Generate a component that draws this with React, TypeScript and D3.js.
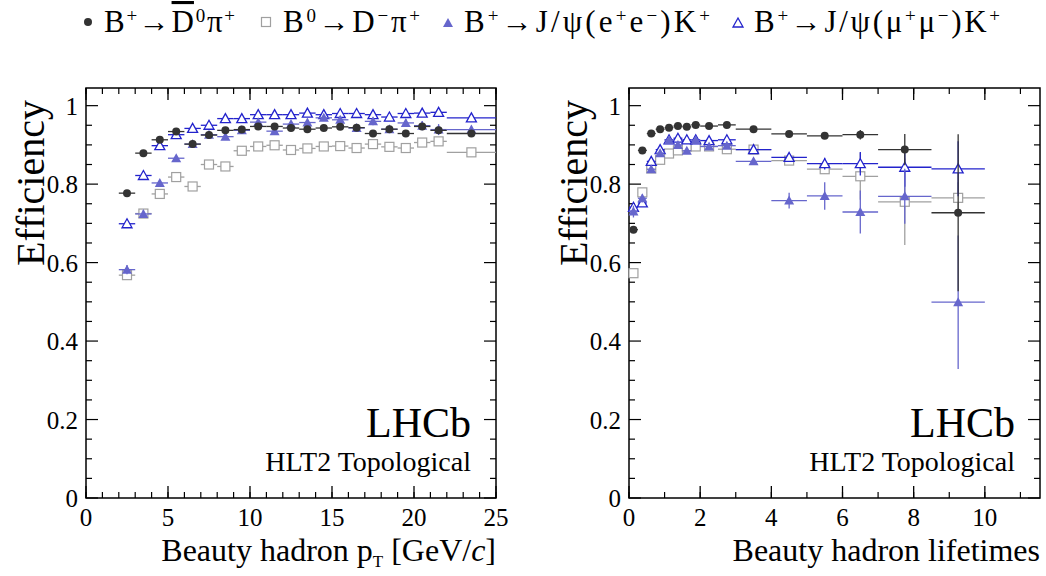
import * as d3 from "d3";

// left panel: pT bins [GeV/c]
const ptLo = [2, 3, 4, 5, 6, 7, 8, 9, 10, 11, 12, 13, 14, 15, 16, 17, 18, 19, 20, 21, 22];
const ptHi = [3, 4, 5, 6, 7, 8, 9, 10, 11, 12, 13, 14, 15, 16, 17, 18, 19, 20, 21, 22, 25];
const ptD0pi = [0.777, 0.879, 0.913, 0.934, 0.902, 0.925, 0.937, 0.939, 0.947, 0.947, 0.943, 0.94, 0.943, 0.946, 0.944, 0.929, 0.94, 0.929, 0.947, 0.937, 0.929];
const ptDpi = [0.568, 0.725, 0.775, 0.818, 0.794, 0.85, 0.845, 0.885, 0.896, 0.899, 0.887, 0.891, 0.896, 0.897, 0.892, 0.902, 0.895, 0.892, 0.906, 0.909, 0.881];
const ptJpsiEE = [0.582, 0.724, 0.803, 0.866, 0.902, 0.926, 0.921, 0.937, 0.958, 0.935, 0.953, 0.957, 0.969, 0.964, 0.943, 0.96, 0.94, 0.956, 0.949, 0.939, 0.939];
const ptJpsiMM = [0.699, 0.822, 0.898, 0.926, 0.942, 0.95, 0.967, 0.967, 0.977, 0.977, 0.977, 0.981, 0.977, 0.98, 0.98, 0.977, 0.971, 0.98, 0.981, 0.983, 0.969];
const ptErrEE = [0.012, 0.01, 0.006, 0.005, 0.004, 0.004, 0.004, 0.004, 0.005, 0.005, 0.006, 0.006, 0.006, 0.007, 0.008, 0.01, 0.01, 0.01, 0.012, 0.014, 0.01];

// right panel: lifetime bins
const tLo = [0, 0.25, 0.5, 0.75, 1, 1.25, 1.5, 1.75, 2, 2.5, 3, 4, 5, 6, 7, 8.5];
const tHi = [0.25, 0.5, 0.75, 1, 1.25, 1.5, 1.75, 2, 2.5, 3, 4, 5, 6, 7, 8.5, 10];
const tD0pi = [0.684, 0.886, 0.929, 0.94, 0.944, 0.948, 0.946, 0.951, 0.948, 0.951, 0.94, 0.928, 0.923, 0.926, 0.888, 0.727];
const tD0piErr = [0.006, 0.003, 0.002, 0.002, 0.002, 0.002, 0.002, 0.002, 0.002, 0.002, 0.003, 0.005, 0.007, 0.012, 0.04, 0.2];
const tDpi = [0.573, 0.779, 0.84, 0.862, 0.878, 0.886, 0.896, 0.896, 0.896, 0.889, 0.888, 0.86, 0.838, 0.82, 0.755, 0.765];
const tDpiErr = [0.008, 0.005, 0.004, 0.003, 0.003, 0.003, 0.003, 0.003, 0.003, 0.004, 0.005, 0.008, 0.012, 0.06, 0.11, 0.04];
const tJpsiEE = [0.73, 0.764, 0.838, 0.879, 0.912, 0.9, 0.885, 0.912, 0.896, 0.898, 0.858, 0.758, 0.77, 0.729, 0.769, 0.499];
const tJpsiEEErr = [0.015, 0.01, 0.008, 0.006, 0.006, 0.006, 0.006, 0.006, 0.006, 0.006, 0.008, 0.02, 0.035, 0.055, 0.07, 0.17];
const tJpsiMM = [0.741, 0.752, 0.858, 0.888, 0.913, 0.917, 0.913, 0.913, 0.911, 0.913, 0.888, 0.868, 0.852, 0.852, 0.843, 0.839];
const tJpsiMMErr = [0.01, 0.008, 0.005, 0.004, 0.004, 0.004, 0.004, 0.004, 0.004, 0.004, 0.006, 0.01, 0.015, 0.03, 0.05, 0.07];

const yTicks = [0, 0.2, 0.4, 0.6, 0.8, 1];

const C_D0 = "#333333";
const C_D = "#a0a0a0";
const C_EE = "#6666cc";
const C_MM = "#2323cc";
const FONT = "'Liberation Serif', 'DejaVu Serif', serif";

type Series = { lo: number[]; hi: number[]; v: number[]; e: number[]; color: string; marker: string };

const TOP = 88;
const BOT = 498;

function Marker({ kind, x, y, color }: { kind: string; x: number; y: number; color: string }) {
  if (kind === "circle") return <circle cx={x} cy={y} r={4} fill={color} />;
  if (kind === "square") return <rect x={x - 4.5} y={y - 4.5} width={9} height={9} fill="white" stroke={color} strokeWidth={1.2} />;
  const tri = `M${x},${y - 5} L${x + 5},${y + 4} L${x - 5},${y + 4} Z`;
  if (kind === "tri") return <path d={tri} fill={color} />;
  return <path d={tri} fill="white" stroke={color} strokeWidth={1.3} />;
}

function Panel({ left, right, xMax, majX, minX, xTickLabels, series, xlabel }: {
  left: number; right: number; xMax: number; majX: number[]; minX: number[]; xTickLabels: number[]; series: Series[]; xlabel: any;
}) {
  const x = d3.scaleLinear().domain([0, xMax]).range([left, right]);
  const y = d3.scaleLinear().domain([0, 1.045]).range([BOT, TOP]);
  const yMinor = d3.range(0, 1.0451, 0.05);
  return (
    <g fontFamily={FONT}>
      <rect x={left} y={TOP} width={right - left} height={BOT - TOP} fill="none" stroke="#000" strokeWidth={1.5} />
      {majX.map((t) => (
        <g key={"mx" + t}>
          <line x1={x(t)} x2={x(t)} y1={BOT} y2={BOT - 12} stroke="#000" strokeWidth={1.3} />
          <line x1={x(t)} x2={x(t)} y1={TOP} y2={TOP + 12} stroke="#000" strokeWidth={1.3} />
        </g>
      ))}
      {minX.map((t) => (
        <g key={"nx" + t}>
          <line x1={x(t)} x2={x(t)} y1={BOT} y2={BOT - 6} stroke="#000" strokeWidth={1.2} />
          <line x1={x(t)} x2={x(t)} y1={TOP} y2={TOP + 6} stroke="#000" strokeWidth={1.2} />
        </g>
      ))}
      {yMinor.map((t, i) => {
        const len = i % 4 === 0 ? 12 : 6;
        return (
          <g key={"y" + i}>
            <line x1={left} x2={left + len} y1={y(t)} y2={y(t)} stroke="#000" strokeWidth={1.2} />
            <line x1={right} x2={right - len} y1={y(t)} y2={y(t)} stroke="#000" strokeWidth={1.2} />
          </g>
        );
      })}
      {xTickLabels.map((t) => (
        <text key={"xl" + t} x={x(t)} y={BOT + 28} textAnchor="middle" fontSize={25}>{t}</text>
      ))}
      {yTicks.map((t) => (
        <text key={"yl" + t} x={left - 8} y={y(t) + 9} textAnchor="end" fontSize={25}>{t}</text>
      ))}
      <text transform={`translate(${left - 42},${183}) rotate(-90)`} textAnchor="middle" fontSize={40}>Efficiency</text>
      <text x={right - 25} y={437} textAnchor="end" fontSize={42}>LHCb</text>
      <text x={right - 25} y={471} textAnchor="end" fontSize={28}>HLT2 Topological</text>
      <text x={right} y={561} textAnchor="end" fontSize={32}>{xlabel}</text>
      {series.map((s, si) => (
        <g key={"s" + si}>
          {s.v.map((v, i) => {
            const cx = x((s.lo[i] + s.hi[i]) / 2);
            return (
              <g key={i}>
                <line x1={x(s.lo[i])} x2={x(s.hi[i])} y1={y(v)} y2={y(v)} stroke={s.color} strokeWidth={1.3} />
                <line x1={cx} x2={cx} y1={y(v - s.e[i])} y2={y(v + s.e[i])} stroke={s.color} strokeWidth={1.3} />
                <Marker kind={s.marker} x={cx} y={y(v)} color={s.color} />
              </g>
            );
          })}
        </g>
      ))}
    </g>
  );
}

function Legend() {
  const sup = { baselineShift: "super", fontSize: 19 } as any;
  return (
    <g fontFamily={FONT} fontSize={31}>
      <Marker kind="circle" x={88} y={22} color={C_D0} />
      <text x={104} y={32} textLength={131}>B<tspan style={sup}>+</tspan>→<tspan textDecoration="overline">D</tspan><tspan style={sup}>0</tspan>π<tspan style={sup}>+</tspan></text>
      <Marker kind="square" x={266} y={22} color={C_D} />
      <text x={283} y={32} textLength={137}>B<tspan style={sup}>0</tspan>→D<tspan style={sup}>−</tspan>π<tspan style={sup}>+</tspan></text>
      <Marker kind="tri" x={448} y={23} color={C_EE} />
      <text x={464} y={32} textLength={246}>B<tspan style={sup}>+</tspan>→J/ψ(e<tspan style={sup}>+</tspan>e<tspan style={sup}>−</tspan>)K<tspan style={sup}>+</tspan></text>
      <Marker kind="otri" x={738} y={23} color={C_MM} />
      <text x={754} y={32} textLength={246}>B<tspan style={sup}>+</tspan>→J/ψ(μ<tspan style={sup}>+</tspan>μ<tspan style={sup}>−</tspan>)K<tspan style={sup}>+</tspan></text>
    </g>
  );
}

export default function App() {
  const zeros = ptLo.map(() => 0.004);
  const leftSeries: Series[] = [
    { lo: ptLo, hi: ptHi, v: ptDpi, e: zeros, color: C_D, marker: "square" },
    { lo: ptLo, hi: ptHi, v: ptJpsiMM, e: zeros, color: C_MM, marker: "otri" },
    { lo: ptLo, hi: ptHi, v: ptJpsiEE, e: ptErrEE, color: C_EE, marker: "tri" },
    { lo: ptLo, hi: ptHi, v: ptD0pi, e: zeros, color: C_D0, marker: "circle" },
  ];
  const rightSeries: Series[] = [
    { lo: tLo, hi: tHi, v: tDpi, e: tDpiErr, color: C_D, marker: "square" },
    { lo: tLo, hi: tHi, v: tJpsiMM, e: tJpsiMMErr, color: C_MM, marker: "otri" },
    { lo: tLo, hi: tHi, v: tJpsiEE, e: tJpsiEEErr, color: C_EE, marker: "tri" },
    { lo: tLo, hi: tHi, v: tD0pi, e: tD0piErr, color: C_D0, marker: "circle" },
  ];
  return (
    <svg width={1046} height={576} style={{ position: "absolute", left: 0, top: 0, background: "white" }}>
      <Legend />
      <Panel left={86} right={496} xMax={25} majX={d3.range(0, 26, 5)} minX={d3.range(0, 26, 1)} xTickLabels={d3.range(0, 26, 5)}
        series={leftSeries} xlabel={<>Beauty hadron p<tspan fontSize={17} dy={6}>T</tspan><tspan dy={-6}> [GeV/</tspan><tspan fontStyle="italic">c</tspan>]</>} />
      <Panel left={629} right={1040} xMax={11.55} majX={d3.range(0, 11.6, 2)} minX={d3.range(0, 11.6, 1)} xTickLabels={d3.range(0, 11, 2)}
        series={rightSeries} xlabel="Beauty hadron lifetimes" />
    </svg>
  );
}
